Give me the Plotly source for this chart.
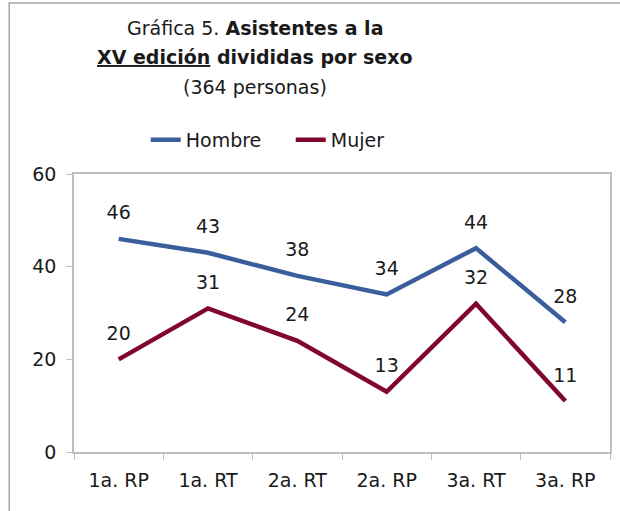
import plotly.graph_objects as go

categorias = ["1a. RP", "1a. RT", "2a. RT", "2a. RP", "3a. RT", "3a. RP"]
hombre = [46, 43, 38, 34, 44, 28]
mujer = [20, 31, 24, 13, 32, 11]

W, H = 620, 511
L, R, T, B = 74, 8, 174, 59
pw, ph = W - L - R, H - T - B


def px_x(p):
    return (p - L) / pw


def px_y(p):
    return (H - B - p) / ph


fuente = "DejaVu Sans"
negro = "#1a1a1a"

fig = go.Figure()
for nombre, valores, color in [("Hombre", hombre, "#3A5E9C"), ("Mujer", mujer, "#80062B")]:
    fig.add_trace(go.Scatter(
        x=categorias, y=valores, name=nombre, mode="lines+markers+text",
        line=dict(color=color, width=4.5),
        marker=dict(size=22, color="rgba(0,0,0,0)", line=dict(width=0)),
        text=[str(v) for v in valores], textposition="top center",
        textfont=dict(size=19, color=negro),
    ))

titulo = [
    ("Gráfica 5. <b>Asistentes a la</b>", 28),
    ("<b><u>XV edición</u> divididas por sexo</b>", 57),
    ("(364 personas)", 87),
]

fig.update_layout(
    width=W, height=H,
    margin=dict(l=L, r=R, t=T, b=B),
    paper_bgcolor="white", plot_bgcolor="white",
    font=dict(family=fuente, size=19, color=negro),
    showlegend=True,
    legend=dict(
        orientation="h", x=px_x(146), xanchor="left",
        y=px_y(140), yanchor="middle",
        font=dict(size=19), entrywidth=100, entrywidthmode="pixels",
    ),
    annotations=[dict(
        text=t, x=px_x(256), y=px_y(cy), xref="paper", yref="paper",
        xanchor="center", yanchor="middle", showarrow=False,
        font=dict(size=19, family=fuente, color=negro),
    ) for t, cy in titulo],
    shapes=[dict(
        type="rect", xref="paper", yref="paper",
        x0=px_x(9), x1=px_x(640), y0=px_y(3), y1=px_y(530),
        line=dict(color="#A6A6A6", width=1.5),
    )],
)

fig.update_xaxes(
    type="category", range=[-0.5, 5.5],
    showline=True, linecolor="#BFBFBF", linewidth=1.5, mirror=True,
    ticks="outside", ticklen=6, tickcolor="#BFBFBF", tickson="boundaries",
    ticklabelstandoff=10,
    showgrid=False, zeroline=False,
)
fig.update_yaxes(
    range=[0, 60], dtick=20,
    showline=True, linecolor="#BFBFBF", linewidth=1.5, mirror=True,
    ticks="outside", ticklen=6, tickcolor="#BFBFBF",
    ticklabelstandoff=6,
    showgrid=False, zeroline=False,
)

fig.write_html("out.html", config={"displayModeBar": False},
               post_script="document.body.style.margin='0px';")
